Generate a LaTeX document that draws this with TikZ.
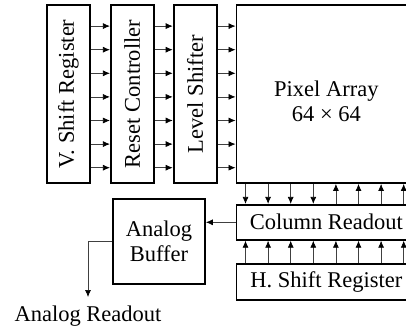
\documentclass[tikz,border=0pt]{standalone}
\usepackage{fontspec}
\setmainfont{Liberation Serif}
\usetikzlibrary{arrows.meta,positioning,calc}

\begin{document}
\begin{tikzpicture}[
    x=1pt, y=-1pt,
    block/.style={rectangle, draw, line width=1.8pt, inner sep=0pt, align=center, font=\fontsize{22.5}{25.5}\selectfont},
    tall/.style={block, minimum width=43pt, minimum height=178pt},
    wide/.style={block, minimum width=180pt},
    txt/.style={inner sep=0pt, align=center, font=\fontsize{22.5}{25.5}\selectfont},
    sig/.style={-{Latex[length=7pt,width=6pt,black]}, line width=0.7pt, draw=black!75}
]
\useasboundingbox (0,0) rectangle (406,331);
\clip (0,0) rectangle (406,331);

% row driver chain
\node[tall] (vsr) at (68.5,94) {};
\node[tall, right=19pt of vsr] (rst) {};
\node[tall, right=18pt of rst] (lvl) {};
\node[txt, rotate=90] (vsr-txt) at (vsr) {V. Shift Register};
\node[txt, rotate=90] (rst-txt) at (rst) {Reset Controller};
\node[txt, rotate=90] (lvl-txt) at (lvl) {Level Shifter};

% array and column side
\node[block, minimum width=180pt, minimum height=178pt, right=18pt of lvl] (pix) {};
\node[txt] (pix-txt) at ($(pix.center)+(0,7.5)$) {Pixel Array\\64 × 64};
\node[wide, minimum height=35pt, below=20pt of pix] (col) {Column Readout};
\node[wide, minimum height=36pt, below=22pt of col] (hsr) {H. Shift Register};
\node[block, minimum width=92pt, minimum height=85pt] (buf) at (159,241.5) {Analog\\Buffer};

% row lines
\foreach \a/\b in {vsr/rst, rst/lvl, lvl/pix}
  \foreach \i in {0,...,6}
    \draw[sig] ($(\a.north east)+(0,22+23.6*\i)$) -- ($(\b.north west)+(0,22+23.6*\i)$);

% column lines
\foreach \i in {0,...,3}
  \draw[sig] ($(pix.south west)+(10+22.6*\i,0)$) -- ($(col.north west)+(10+22.6*\i,0)$);
\foreach \i in {4,...,7}
  \draw[sig] ($(col.north west)+(10+22.6*\i,0)$) -- ($(pix.south west)+(10+22.6*\i,0)$);
\foreach \i in {0,...,7}
  \draw[sig] ($(hsr.north west)+(10+22.6*\i,0)$) -- ($(col.south west)+(10+22.6*\i,0)$);

% output path
\draw[sig] (col.west) -- (col.west -| buf.east);
\coordinate (out) at (88,297);
\draw[sig] (buf.west) -| (out);
\node[txt, below=9pt of out] (out-txt) {Analog Readout};

\end{tikzpicture}
\end{document}
